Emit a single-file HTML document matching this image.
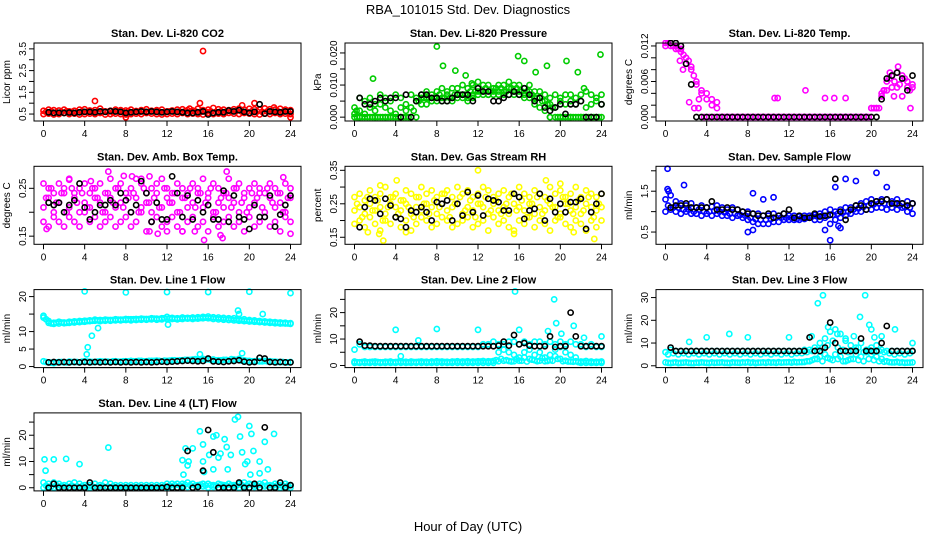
<!DOCTYPE html>
<html><head><meta charset="utf-8"><style>
body{margin:0;background:#fff;}
svg{display:block;font-family:"Liberation Sans",sans-serif;}
</style></head><body>
<svg id="c" width="936" height="540" viewBox="0 0 936 540">
<text x="468" y="14" text-anchor="middle" font-size="13">RBA_101015  Std. Dev. Diagnostics</text>
<text x="468" y="531" text-anchor="middle" font-size="13">Hour of Day (UTC)</text>
</svg>
<script>
const hoursC = [0,0.5,1,1.5,2,2.5,3,3.5,4,4.5,5,5.5,6,6.5,7,7.5,8,8.5,9,9.5,10,10.5,11,11.5,12,12.5,13,13.5,14,14.5,15,15.5,16,16.5,17,17.5,18,18.5,19,19.5,20,20.5,21,21.5,22,22.5,23,23.5,24];
const hoursD = [0.25,0.75,1.25,1.75,2.25,2.75,3.25,3.75,4.25,4.75,5.25,5.75,6.25,6.75,7.25,7.75,8.25,8.75,9.25,9.75,10.25,10.75,11.25,11.75,12.25,12.75,13.25,13.75,14.25,14.75,15.25,15.75,16.25,16.75,17.25,17.75,18.25,18.75,19.25,19.75,20.25,20.75,21.25,21.75,22.25,22.75,23.25,23.75];
const hoursK = [0.5,1,1.5,2,2.5,3,3.5,4,4.5,5,5.5,6,6.5,7,7.5,8,8.5,9,9.5,10,10.5,11,11.5,12,12.5,13,13.5,14,14.5,15,15.5,16,16.5,17,17.5,18,18.5,19,19.5,20,20.5,21,21.5,22,22.5,23,23.5,24];
const xTicks = [0,4,8,12,16,20,24];

// CO2
const co2A = [0.65,0.7,0.68,0.66,0.7,0.62,0.65,0.7,0.72,0.66,0.68,0.75,0.62,0.65,0.7,0.68,0.66,0.7,0.64,0.68,0.72,0.65,0.68,0.7,0.62,0.66,0.7,0.72,0.68,0.66,0.74,0.68,0.7,0.78,0.72,0.7,0.68,0.72,0.75,0.7,0.74,0.72,0.7,0.76,0.72,0.7,0.74,0.7,0.68];
const co2B = [0.5,0.52,0.48,0.5,0.55,0.5,0.52,0.48,0.5,0.52,0.5,0.55,0.48,0.5,0.52,0.5,0.48,0.5,0.52,0.5,0.55,0.52,0.5,0.48,0.5,0.52,0.5,0.55,0.5,0.52,0.5,0.48,0.55,0.5,0.52,0.5,0.55,0.52,0.5,0.55,0.52,0.5,0.48,0.52,0.5,0.55,0.5,0.52,0.5];
const co2D = [0.6,0.62,0.58,0.6,0.63,0.6,0.58,0.62,0.6,0.61,0.59,0.62,0.6,0.58,0.61,0.6,0.63,0.6,0.59,0.62,0.6,0.61,0.6,0.58,0.62,0.6,0.61,0.63,0.6,0.62,0.6,0.61,0.62,0.6,0.63,0.61,0.62,0.64,0.62,0.6,0.63,0.62,0.6,0.62,0.61,0.63,0.6,0.62];
const co2Out = [[15.5,3.4],[5,1.1],[15.2,1.0],[19.3,0.9],[20.5,1.0],[22.4,0.8],[8,0.35],[24,0.35],[14.2,0.75]];
const co2K = [0.58,0.55,0.56,0.55,0.57,0.55,0.58,0.6,0.6,0.58,0.62,0.6,0.64,0.62,0.6,0.55,0.58,0.6,0.62,0.6,0.62,0.6,0.58,0.6,0.62,0.6,0.58,0.55,0.55,0.58,0.62,0.48,0.55,0.58,0.58,0.66,0.62,0.68,0.6,0.55,0.6,0.95,0.52,0.62,0.6,0.58,0.62,0.62];
// Pressure
const prA = [0.003,0.006,0.005,0.006,0.004,0.007,0.006,0.005,0.007,0.006,0.004,0.007,0.006,0.007,0.008,0.007,0.008,0.009,0.008,0.009,0.009,0.010,0.009,0.010,0.011,0.010,0.010,0.009,0.010,0.010,0.011,0.010,0.010,0.009,0.010,0.008,0.008,0.007,0.006,0.007,0.006,0.007,0.007,0.006,0.007,0.008,0.007,0.006,0.007];
const prB = [0.001,0.002,0.001,0.003,0.002,0.004,0.003,0.002,0.001,0.003,0.002,0.003,0.005,0.006,0.006,0.005,0.006,0.006,0.007,0.006,0.007,0.007,0.006,0.007,0.008,0.008,0.007,0.008,0.008,0.008,0.009,0.008,0.008,0.007,0.008,0.006,0.006,0.005,0.004,0.003,0.005,0.004,0.005,0.004,0.005,0.003,0.004,0.005,0.004];
const prC = [0,0,0,0,0,0,0,0,0,0,0,0,0,0.004,0.004,0.005,0.005,0.005,0.005,0.005,0.006,0.006,0.005,0.006,0.007,0.007,0.007,0.007,0.007,0.007,0.007,0.007,0.007,0.006,0.006,0.004,0.003,0.002,0,0,0,0,0,0,0,0,0,0,0];
const prD = [0,0,0,0,0,0,0,0,0,0,0,0.002,0.005,0.006,0.006,0.006,0.007,0.006,0.006,0.007,0.007,0.007,0.008,0.008,0.008,0.009,0.008,0.009,0.009,0.008,0.009,0.009,0.008,0.008,0.007,0.006,0.005,0.004,0.003,0,0,0,0,0,0,0,0,0];
const prOut = [[1.8,0.012],[8,0.022],[8.6,0.016],[9.8,0.0145],[10.8,0.013],[11.4,0.0105],[15.9,0.019],[16.5,0.0175],[17.6,0.014],[18.7,0.016],[20.6,0.0175],[21.7,0.014],[23.9,0.0195],[22.3,0.009],[0.2,0.002],[0.5,0],[2,0],[3,0],[5.5,0],[19,0],[20,0],[21,0],[22,0],[23,0]];
const prK = [0.006,0.004,0.004,0.005,0.006,0.005,0.006,0.006,0.0,0.007,0.0,0.005,0.007,0.007,0.006,0.006,0.005,0.005,0.006,0.007,0.007,0.007,0.005,0.009,0.008,0.008,0.005,0.005,0.006,0.007,0.008,0.007,0.009,0.007,0.005,0.006,0.003,0.002,0.003,0.004,0.001,0.004,0.004,0.005,0.0,0.0,0.0,0.004];
// Temp
const tpA = [0.0125,0.0125,0.012,0.0115,0.010,0.0085,0.006,0.0045,0.004,0.003,0.0025,0,0,0,0,0,0,0,0,0,0,0,0,0,0,0,0,0,0,0,0,0,0,0,0,0,0,0,0,0,0.0015,0.0015,0.0035,0.006,0.007,0.0075,0.007,0.006,0.0055];
const tpB = [0.012,0.012,0.0115,0.011,0.009,0.008,0.0055,0.004,0.003,0.002,0.0015,0,0,0,0,0,0,0,0,0,0,0,0,0,0,0,0,0,0,0,0,0,0,0,0,0,0,0,0,0,0.0015,0.0015,0.004,0.0045,0.005,0.005,0.0035,0.005,0.005];
const tpD = [0.0125,0.012,0.0115,0.0105,0.0095,0.007,0.003,0,0,0,0,0,0,0,0,0,0,0,0,0,0,0,0,0,0,0,0,0,0,0,0,0,0,0,0,0,0,0,0,0,0.0015,0.0015,0.0045,0.0065,0.006,0.0055,0.0065,0.0045];
const tpOut = [[10.6,0.0032],[10.9,0.0032],[13.6,0.0045],[15.5,0.0032],[16.4,0.0032],[17.5,0.0032],[1.4,0.0095],[1.7,0.008],[2.3,0.0025],[2.8,0.0015],[3.2,0.0015],[21.8,0.0075],[22.6,0.0085],[23.8,0.0015],[21.2,0.0045],[22.2,0.0035]];
const tpK = [0.0125,0.0125,0.012,0.009,0.0055,0,0,0,0,0,0,0,0,0,0,0,0,0,0,0,0,0,0,0,0,0,0,0,0,0,0,0,0,0,0,0,0,0,0,0,0,0.003,0.0065,0.007,0.0075,0.0065,0.0045,0.007];
// Amb box temp
const abA = [0.26,0.25,0.24,0.26,0.25,0.27,0.24,0.25,0.26,0.24,0.25,0.26,0.24,0.27,0.25,0.26,0.24,0.25,0.27,0.26,0.24,0.25,0.26,0.27,0.25,0.24,0.26,0.25,0.24,0.26,0.25,0.27,0.24,0.26,0.25,0.24,0.27,0.25,0.26,0.24,0.25,0.26,0.25,0.24,0.26,0.25,0.24,0.26,0.25];
const abB = [0.21,0.23,0.2,0.22,0.24,0.21,0.23,0.2,0.22,0.21,0.23,0.22,0.2,0.23,0.21,0.22,0.24,0.2,0.23,0.21,0.22,0.2,0.24,0.21,0.23,0.22,0.2,0.23,0.21,0.22,0.24,0.21,0.23,0.2,0.22,0.21,0.23,0.22,0.2,0.23,0.21,0.22,0.24,0.2,0.23,0.21,0.22,0.2,0.23];
const abC = [0.18,0.17,0.19,0.18,0.17,0.19,0.18,0.17,0.2,0.18,0.19,0.17,0.18,0.19,0.17,0.18,0.19,0.17,0.18,0.2,0.16,0.18,0.19,0.17,0.18,0.19,0.17,0.16,0.18,0.19,0.17,0.18,0.16,0.19,0.17,0.18,0.19,0.17,0.18,0.16,0.19,0.17,0.18,0.19,0.17,0.18,0.16,0.19,0.18];
const abD = [0.23,0.25,0.22,0.24,0.2,0.25,0.22,0.24,0.21,0.25,0.23,0.2,0.24,0.22,0.25,0.21,0.23,0.24,0.2,0.25,0.22,0.23,0.21,0.25,0.22,0.24,0.2,0.23,0.25,0.21,0.24,0.22,0.25,0.2,0.23,0.24,0.21,0.25,0.22,0.2,0.24,0.23,0.21,0.25,0.22,0.24,0.2,0.23];
const abOut = [[6.3,0.285],[7.8,0.276],[8.6,0.275],[10.3,0.275],[17.8,0.285],[23.3,0.273],[15.6,0.142],[17.4,0.146],[17.2,0.152],[10.3,0.16],[11.1,0.155],[12,0.16],[13.5,0.16],[14.7,0.16],[24,0.155],[2.5,0.268],[0.3,0.165],[4.6,0.265],[9.5,0.27]];
const abK = [0.22,0.215,0.22,0.2,0.215,0.225,0.26,0.21,0.185,0.2,0.215,0.215,0.225,0.215,0.24,0.225,0.2,0.215,0.265,0.24,0.18,0.22,0.185,0.185,0.275,0.24,0.19,0.235,0.185,0.225,0.2,0.215,0.185,0.185,0.245,0.18,0.235,0.19,0.185,0.165,0.215,0.19,0.19,0.235,0.17,0.195,0.215,0.235];
// RH
const rhA = [0.27,0.28,0.26,0.29,0.27,0.28,0.3,0.27,0.28,0.26,0.29,0.28,0.27,0.3,0.28,0.29,0.27,0.28,0.29,0.27,0.3,0.28,0.29,0.27,0.28,0.3,0.29,0.27,0.28,0.29,0.27,0.28,0.3,0.28,0.27,0.29,0.28,0.27,0.3,0.28,0.29,0.27,0.28,0.3,0.27,0.29,0.28,0.27,0.28];
const rhB = [0.23,0.24,0.22,0.25,0.23,0.24,0.22,0.25,0.24,0.23,0.25,0.22,0.24,0.23,0.25,0.24,0.22,0.25,0.23,0.24,0.25,0.22,0.24,0.23,0.25,0.24,0.22,0.25,0.23,0.24,0.22,0.25,0.24,0.23,0.25,0.22,0.24,0.23,0.25,0.24,0.22,0.25,0.23,0.24,0.22,0.25,0.24,0.23,0.24];
const rhC = [0.19,0.2,0.18,0.21,0.19,0.17,0.2,0.19,0.21,0.18,0.2,0.17,0.19,0.21,0.2,0.18,0.19,0.21,0.2,0.18,0.19,0.2,0.21,0.18,0.19,0.2,0.17,0.21,0.19,0.2,0.18,0.17,0.2,0.19,0.21,0.18,0.2,0.19,0.17,0.2,0.21,0.19,0.18,0.2,0.19,0.17,0.2,0.18,0.2];
const rhD = [0.25,0.21,0.27,0.23,0.26,0.2,0.24,0.27,0.22,0.26,0.24,0.21,0.27,0.25,0.22,0.26,0.24,0.28,0.21,0.25,0.27,0.23,0.26,0.21,0.25,0.27,0.23,0.26,0.22,0.25,0.28,0.23,0.26,0.21,0.25,0.27,0.22,0.26,0.24,0.21,0.27,0.25,0.22,0.26,0.23,0.27,0.21,0.25];
const rhOut = [[12,0.35],[2.8,0.14],[23.3,0.145],[18.6,0.32],[4.1,0.32],[2.5,0.305],[20,0.31],[15.5,0.16],[21.3,0.165],[5,0.165],[2.4,0.16],[1.3,0.165]];
const rhK = [0.18,0.24,0.265,0.26,0.22,0.265,0.245,0.21,0.205,0.18,0.23,0.225,0.24,0.225,0.2,0.255,0.25,0.26,0.2,0.25,0.215,0.285,0.225,0.275,0.215,0.265,0.26,0.255,0.23,0.23,0.28,0.27,0.205,0.23,0.235,0.28,0.2,0.265,0.225,0.25,0.225,0.255,0.255,0.265,0.175,0.225,0.25,0.28];
// Sample flow
const sfA = [1.3,1.4,1.25,1.2,1.15,1.2,1.1,1.15,1.1,1.12,1.15,1.1,1.05,1.1,1.05,1.0,1.0,0.95,0.95,0.9,0.9,0.95,0.9,0.95,0.9,0.9,0.88,0.9,0.9,0.92,0.95,1.0,1.05,1.0,1.05,1.1,1.1,1.15,1.2,1.25,1.3,1.25,1.3,1.3,1.25,1.3,1.2,1.25,1.2];
const sfB = [1.0,1.05,1.0,0.95,1.0,0.95,0.95,0.9,0.95,0.9,0.95,0.9,0.9,0.85,0.9,0.85,0.8,0.75,0.7,0.7,0.7,0.75,0.75,0.8,0.8,0.8,0.8,0.82,0.85,0.8,0.8,0.85,0.7,0.8,0.85,0.9,0.95,1.0,1.0,1.05,1.05,1.1,1.1,1.05,1.1,1.05,1.1,1.0,0.95];
const sfD = [1.15,1.1,1.1,1.05,1.05,1.0,1.05,1.0,1.0,1.02,1.0,0.98,0.95,0.95,0.92,0.9,0.85,0.82,0.8,0.8,0.82,0.85,0.85,0.85,0.85,0.82,0.85,0.85,0.88,0.88,0.9,0.9,0.92,0.95,0.98,1.0,1.05,1.08,1.12,1.15,1.18,1.2,1.2,1.18,1.2,1.15,1.12,1.1];
const sfOut = [[0.2,2.05],[1.8,1.65],[8.5,1.45],[9.5,1.3],[10.5,1.35],[16,0.3],[16.5,1.6],[17.5,1.8],[18.5,1.75],[20.5,1.95],[21.5,1.6],[8,0.5],[8.5,0.55],[15.5,0.55],[17,0.6],[16.8,0.65],[0.2,1.55],[0.3,1.5]];
const sfK = [1.1,1.15,1.15,1.2,1.1,1.1,1.1,1.1,1.25,1.05,1.05,1.1,1.05,1.05,1.0,0.95,0.95,0.9,0.9,0.95,0.85,0.9,0.95,1.05,0.85,0.9,0.85,0.85,0.95,0.88,0.9,0.92,1.8,1.0,0.8,1.05,1.15,1.15,1.05,1.2,1.25,1.25,1.3,1.2,1.2,1.2,1.15,1.2];
// Line 1
const l1A = [14.5,13,12.5,12.8,12.6,12.8,12.9,13,13.1,13.2,13.4,13.3,13.4,13.3,13.5,13.4,13.6,13.5,13.6,13.7,13.6,13.8,13.7,13.8,14.2,13.9,13.8,14,13.9,14,14.1,14.2,14.3,14.1,14,13.9,13.8,13.8,13.6,13.5,13.3,13.2,13,12.9,12.8,12.7,12.6,12.5,12.4];
const l1B = [14,12.5,12.2,12.3,12.4,12.5,12.6,12.7,12.8,13,13.1,13,13.1,13.1,13.2,13.2,13.3,13.2,13.3,13.4,13.4,13.5,13.4,13.5,13.6,13.6,13.5,13.6,13.7,13.6,13.7,13.8,13.8,13.6,13.5,13.4,13.3,13.2,13.1,13,12.9,12.8,12.7,12.6,12.5,12.4,12.3,12.3,12.2];
const l1C = [1.5,1.2,1.0,1.3,1.2,1.4,1.3,1.2,1.5,1.4,1.3,1.5,1.4,1.3,1.5,1.4,1.5,1.6,1.5,1.6,1.5,1.6,1.7,1.5,1.6,1.8,1.7,1.8,1.9,2.0,2.0,2.2,2.1,2.0,1.8,1.9,1.7,2.0,2.2,1.8,1.6,1.5,1.5,1.6,1.5,1.4,1.3,1.2,1.3];
const l1D = [13.5,12.3,12.5,12.6,12.5,12.7,12.8,12.9,13,13.1,13.2,13.2,13.3,13.3,13.4,13.4,13.5,13.5,13.5,13.6,13.6,13.7,13.6,13.8,13.8,13.7,13.7,13.8,13.8,13.8,13.9,14,13.9,13.8,13.7,13.6,13.5,13.3,13.2,13.1,13,12.9,12.8,12.7,12.6,12.5,12.4,12.3];
const l1E = [1.3,1.1,1.2,1.3,1.2,1.3,1.3,1.4,1.4,1.3,1.4,1.4,1.4,1.5,1.4,1.5,1.5,1.5,1.6,1.5,1.6,1.6,1.6,1.7,1.7,1.8,1.8,1.9,1.9,2.1,2.1,2.0,1.9,1.8,1.8,1.9,2.1,1.9,1.7,1.6,1.5,1.6,1.5,1.5,1.4,1.3,1.3,1.2];
const l1Out = [[4,21.5],[8,21.2],[12,21.3],[16,21.3],[20,21.4],[24,21],[4.2,3.5],[4.3,5.5],[4.7,8.8],[5.3,11],[15.2,3.5],[19.3,3.8],[18.9,16],[19,15],[21.3,15],[12.1,12]];
const l1K = [1.2,1.3,1.2,1.3,1.2,1.3,1.2,1.3,1.2,1.3,1.2,1.3,1.2,1.3,1.2,1.3,1.2,1.3,1.2,1.3,1.2,1.3,1.4,1.3,1.4,1.5,1.6,1.7,1.6,1.5,1.6,2.3,1.5,1.4,1.3,1.5,1.6,1.8,1.4,1.2,1.3,2.5,2.3,1.3,1.2,1.3,1.2,1.2];
// Line 2
const l2A = [6,8,7,7,7,7,7,7,7,7,7,7,7,7,7,7,7,7,7,7,7,7,7,7,7,8,8,9,8,8,9,9,8,9,8,9,9,8,9,8,9,8,9,8,8,7,8,7,7];
const l2B = [1.5,1.2,1.5,1.3,1.5,1.2,1.4,1.5,1.3,1.5,1.4,1.5,1.3,1.5,1.4,1.5,1.6,1.5,1.4,1.5,1.6,1.5,1.6,1.5,1.6,1.7,1.6,1.7,1.6,1.8,1.7,1.6,1.8,3,2.5,2,1.8,1.6,2,3.5,2.5,1.8,1.5,1.6,1.5,1.7,1.5,1.4,1.5];
const l2C = [1,1,1,1,1,1,1,1,1,1,1,1,1,1,1,1,1,1,1,1,1,1,1,1,1,1,1,1,5,6,5,4,3,5,6,4,5,3,4,6,7,5,4,3,1,1,1,1,1];
const l2D = [1.2,1.3,1.2,1.4,1.3,1.2,1.3,1.2,1.4,1.3,1.2,1.3,1.4,1.3,1.2,1.3,1.4,1.3,1.2,1.4,1.3,1.4,1.3,1.4,1.5,1.4,1.5,2,2.5,2,1.5,2.5,1.8,1.5,2.2,1.6,2.8,1.7,1.8,2.5,1.6,1.5,1.4,1.3,1.4,1.3,1.2,1.3];
const l2Out = [[4,13.5],[8,13.8],[12,13.5],[15.6,28],[19.4,25],[19.6,16],[18.8,13],[21.3,15],[24,11],[16,13.5],[6.2,9.5],[4.5,3.5],[20.1,12],[22.3,10.5]];
const l2K = [9,7.5,7.5,7.3,7.3,7.3,7.3,7.3,7.3,7.3,7.3,7.3,7.3,7.3,7.3,7.3,7.3,7.3,7.3,7.3,7.3,7.3,7.3,7.3,7.3,7.3,7.3,7.5,9,7.5,11.5,8,8.5,7.5,7.3,7.3,7.3,11,7,7.3,7.3,20,11,7.3,7.3,7.3,7.3,7.3];
// Line 3
const l3A = [6,7,6.5,6.5,6.5,6.5,6.5,6.5,6.5,6.5,6.5,6.5,6.5,6.5,6.5,6.5,6.5,6.5,6.5,6.5,6.5,6.5,6.5,6.5,6.5,6.5,6.5,7,7,8,10,12,15,16,14,11,9,8,10,7,8,9,7,6.5,6.5,6.5,6.5,6.5,6.5];
const l3B = [1.5,1.2,1.5,1.3,1.5,1.2,1.4,1.5,1.3,1.5,1.4,1.5,1.3,1.5,1.4,1.5,1.6,1.5,1.4,1.5,1.6,1.5,1.6,1.5,1.6,1.7,1.6,1.7,2,3,4,5,3,5,4,2,3,5,4,6,5,4,3,2,1.5,1.7,1.5,1.4,1.5];
const l3D = [1.3,1.4,1.2,1.4,1.3,1.2,1.3,1.4,1.2,1.3,1.4,1.3,1.2,1.4,1.3,1.4,1.3,1.2,1.4,1.3,1.4,1.3,1.4,1.5,1.4,1.5,1.6,2,2.5,3,2,3.5,2.5,3,2,2.5,3,2.5,2,3,2.5,2,1.8,1.6,1.5,1.4,1.3,1.4];
const l3E = [5,5.5,5,5.5,5,5.5,5,5.5,5,5.5,5,5.5,5,5.5,5,5.5,5,5.5,5,5.5,5,5.5,5,5.5,5,5.5,5.5,6,6.5,7,8,9,11,8,7,6,7,8,6,7,6,6.5,6,5.5,5,5.5,5,5.5];
const l3Out = [[15.3,31],[19.4,31],[14.8,27.5],[18.9,21.5],[19.8,18],[20.3,12.5],[22.3,16],[24,10],[2.3,10.5],[4,12.5],[6.2,14],[8,12.5],[12,12.5],[14.2,13],[15.8,17],[16.7,14],[17.5,12],[18.3,13],[20,16],[21,13]];
const l3K = [8,6.5,6.5,6.5,6.5,6.5,6.5,6.5,6.5,6.5,6.5,6.5,6.5,6.5,6.5,6.5,6.5,6.5,6.5,6.5,6.5,6.5,6.5,6.5,6.5,6.5,6.5,12.5,6.5,6.5,8,19,10,6.5,6.5,6.5,6.5,12,6.5,6.5,6.5,10,17.5,6.5,6.5,6.5,6.5,6.5];
// Line 4
const l4A = [2,1.5,2,1.5,1,1.5,2,1.5,1,1,1.5,1,2,1.5,1,1,1,1,1,1,1,1,1,1,1.5,1.5,1.5,1.5,2,1.5,1,1.5,1.5,1,1.5,1,1.5,1,1.5,2,1.5,1,1.5,2,1,1.5,1,1.5,1];
const l4B = [0,0.3,0,0.3,0,0,0.3,0,0,0,0,0,0,0,0,0,0,0,0,0,0,0,0,0,0,0.3,0,0.5,0.3,0,0.3,0.5,0,0.3,0,0.5,0,0.3,0,0.5,0,0.3,0,0.5,0,0.3,0,0.3,0];
const l4D = [0.8,0.5,1,0.6,0.5,0.8,0.5,0.6,0.4,0.5,0.4,0.6,0.4,0.5,0.4,0.3,0.4,0.3,0.4,0.3,0.4,0.3,0.4,0.5,0.8,1,0.8,1.2,1,0.8,1.2,0.9,1,0.8,1.2,0.9,1,0.8,1.1,0.9,1.2,0.8,1,0.9,0.8,1,0.7,0.8];
const l4Out = [[0.1,10.8],[0.2,6.5],[1,10.8],[2.2,11],[3.5,9],[6.3,15.3],[13.5,10.5],[13.8,15],[14.1,10],[14.5,15],[15.2,21.5],[15.5,16.5],[16.1,12.5],[16.5,19.5],[16.8,20],[17.2,13],[17.6,18.5],[17.8,15.5],[18.2,12.5],[18.6,26],[18.9,27],[19.1,19.5],[19.3,13.5],[19.6,9],[20,23.5],[20.2,20.5],[20.4,14],[21,10],[21.5,17.5],[21.8,7],[22.4,20.5],[20.1,5],[21,5.5],[13.6,5],[15.5,10],[16.5,7],[17,11.5],[17.9,7],[19.8,10],[14,8.5],[15.6,6]];
const l4K = [0,1.5,0,0,0,0,0,0,2,0,0,0,0,0,0,0,0,0,0,0,0,0,0,0.3,0,0,0,14,0,0.3,6.5,22,13.5,0,0,0,0,2,0,0,1.5,0,23,0,0,2,0,1];

const NS = 'http://www.w3.org/2000/svg';
const svg = document.getElementById('c');
function mk(tag, attrs, parent){const e=document.createElementNS(NS,tag);for(const k in attrs)e.setAttribute(k,attrs[k]);(parent||svg).appendChild(e);return e;}

function panel(col,row,title,ytitle,ylim,yTicks,yLabels,colored,coloredOff,color,outliers,blackVals,slug){
  const L = 34 + 311*col, W = 267, T = 43 + 123.3*row, H = 78;
  const g = mk('g',{});
  
  
  const xs = h => L + 9.5 + h*(247/24);
  const ys = v => T + H - (v - ylim[0])/(ylim[1]-ylim[0])*H;
  const t = mk('text',{x:L+W/2,y:T-6,'text-anchor':'middle','font-size':'11','font-weight':'bold'},g);
  t.textContent = title;
  
  
  const yt = mk('text',{transform:`translate(${L-24},${T+H/2}) rotate(-90)`,'text-anchor':'middle','font-size':'10'},g);
  yt.textContent = ytitle;
  
  
  mk('line',{x1:L,x2:L,y1:ys(yTicks[0]),y2:ys(yTicks[yTicks.length-1]),stroke:'#000'},g);
  yTicks.forEach((v,i)=>{
    const y=ys(v);
    mk('line',{x1:L-5,x2:L,y1:y,y2:y,stroke:'#000'},g);
    if(yLabels[i]){
      const tl=mk('text',{transform:`translate(${L-8},${y}) rotate(-90)`,'text-anchor':'middle','font-size':'10'},g);
      tl.textContent=yLabels[i];
      
      
    }
  });
  mk('line',{x1:xs(0),x2:xs(24),y1:T+H,y2:T+H,stroke:'#000'},g);
  xTicks.forEach(h=>{
    mk('line',{x1:xs(h),x2:xs(h),y1:T+H,y2:T+H+5,stroke:'#000'},g);
    const tl=mk('text',{x:xs(h),y:T+H+16,'text-anchor':'middle','font-size':'10'},g);
    tl.textContent=h;
    
    
  });
  const cid='clip'+slug;
  const cp=mk('clipPath',{id:cid},g);
  mk('rect',{x:L,y:T-3,width:W,height:H+6},cp);
  const pts=mk('g',{'clip-path':`url(#${cid})`,fill:'none','stroke-width':'1.6'},g);
  colored.forEach(arr=>{
    arr.forEach((v,i)=>{
      const c=mk('circle',{cx:xs(hoursC[i]),cy:ys(v),r:2.6,stroke:color},pts);
      
      
    });
  });
  coloredOff.forEach(arr=>{
    arr.forEach((v,i)=>{
      const c=mk('circle',{cx:xs(hoursD[i]),cy:ys(v),r:2.6,stroke:color},pts);
      
      
    });
  });
  outliers.forEach(p=>{
    const c=mk('circle',{cx:xs(p[0]),cy:ys(p[1]),r:2.6,stroke:color},pts);
    
    
  });
  blackVals.forEach((v,i)=>{
    const c=mk('circle',{cx:xs(hoursK[i]),cy:ys(v),r:2.6,stroke:'#000'},pts);
    
    
  });
  const box=mk('rect',{x:L,y:T,width:W,height:H,fill:'none',stroke:'#000'},g);
  
  
}

panel(0,0,'Stan. Dev. Li-820 CO2','Licor ppm',[0.18,3.77],[0.5,1,1.5,2,2.5,3,3.5],['0.5','','1.5','','2.5','','3.5'],[co2A,co2B],[co2D],'#ff0000',co2Out,co2K,'co2');
panel(1,0,'Stan. Dev. Li-820 Pressure','kPa',[-0.0012,0.0231],[0,0.005,0.01,0.015,0.02],['0.000','','0.010','','0.020'],[prA,prB,prC],[prD],'#00cc00',prOut,prK,'pressure');
panel(2,0,'Stan. Dev. Li-820 Temp.','degrees C',[-0.00067,0.0125],[0,0.002,0.004,0.006,0.008,0.01,0.012],['0.000','','','0.006','','','0.012'],[tpA,tpB],[tpD],'#ff00ff',tpOut,tpK,'temp');
panel(0,1,'Stan. Dev. Amb. Box Temp.','degrees C',[0.133,0.296],[0.15,0.2,0.25],['0.15','','0.25'],[abA,abB,abC],[abD],'#ff00ff',abOut,abK,'ambtemp');
panel(1,1,'Stan. Dev. Gas Stream RH','percent',[0.129,0.362],[0.15,0.2,0.25,0.3,0.35],['0.15','','0.25','','0.35'],[rhA,rhB,rhC],[rhD],'#ffff00',rhOut,rhK,'rh');
panel(2,1,'Stan. Dev. Sample Flow','ml/min',[0.2,2.11],[0.5,1,1.5,2],['0.5','','1.5',''],[sfA,sfB],[sfD],'#0000ff',sfOut,sfK,'sampleflow');
panel(0,2,'Stan. Dev. Line 1 Flow','ml/min',[-0.3,22],[0,5,10,15,20],['0','5','10','','20'],[l1A,l1B,l1C],[l1D,l1E],'#00ffff',l1Out,l1K,'line1');
panel(1,2,'Stan. Dev. Line 2 Flow','ml/min',[-0.8,28.7],[0,5,10,15,20,25],['0','','10','','20',''],[l2A,l2B,l2C],[l2D],'#00ffff',l2Out,l2K,'line2');
panel(2,2,'Stan. Dev. Line 3 Flow','ml/min',[-0.8,33.5],[0,10,20,30],['0','10','20','30'],[l3A,l3B],[l3D,l3E],'#00ffff',l3Out,l3K,'line3');
panel(0,3,'Stan. Dev. Line 4 (LT) Flow','ml/min',[-1.2,28.5],[0,5,10,15,20,25],['0','','10','','20',''],[l4A,l4B],[l4D],'#00ffff',l4Out,l4K,'line4');
</script>
</body></html>
